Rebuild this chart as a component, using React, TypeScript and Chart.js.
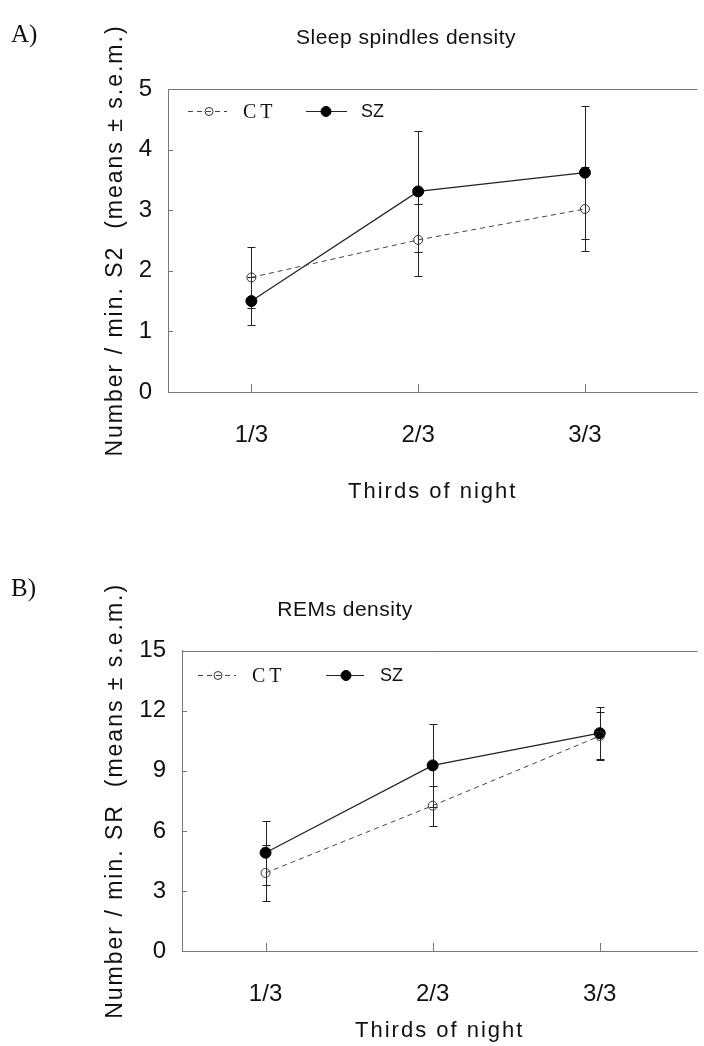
import React, { useEffect, useRef } from 'react';
import { Chart, registerables } from 'chart.js';

Chart.register(...registerables);

// ---------- data ----------
const categories = ['1/3', '2/3', '3/3'];
const seriesNames = ['CT', 'SZ'];

const spindlesCT = [1.89, 2.51, 3.02];
const spindlesCTErr = [0.5, 0.6, 0.7];
const spindlesSZ = [1.5, 3.31, 3.62];
const spindlesSZErr = [0.4, 1.0, 1.1];
const spindlesTicks = [0, 1, 2, 3, 4, 5];

const remsCT = [3.9, 7.26, 10.74];
const remsCTErr = [1.41, 1.0, 1.18];
const remsSZ = [4.91, 9.27, 10.88];
const remsSZErr = [1.59, 2.07, 1.29];
const remsTicks = [0, 3, 6, 9, 12, 15];

const FONT = "'Liberation Sans', Arial, Helvetica, sans-serif";
const SERIF = "'Liberation Serif', 'Times New Roman', serif";
const INK = '#111';

type PanelCfg = {
  top: number;
  height: number;
  letter: string;
  letterY: number;
  title: string;
  titleX: number;
  titleY: number;
  yLabel: string;
  chartTop: number;
  chartLeft: number;
  chartBottom: number;
  xMax: number;
  xTitlePadBottom: number;
  yTitlePadTop: number;
  ct: number[];
  ctErr: number[];
  sz: number[];
  szErr: number[];
  yTicks: number[];
  legend: { dy: number; items: { x0: number; x1: number; mx: number; tx: number; font: string; spacing: string }[] };
};

const panelA: PanelCfg = {
  top: 0,
  height: 520,
  letter: 'A)',
  letterY: 42,
  title: 'Sleep spindles density',
  titleX: 406,
  titleY: 38,
  yLabel: 'Number / min. S2  (means ± s.e.m.)',
  chartTop: 89,
  chartLeft: 168,
  chartBottom: 392,
  xMax: 3.675,
  xTitlePadBottom: 14.8,
  yTitlePadTop: 102,
  ct: spindlesCT,
  ctErr: spindlesCTErr,
  sz: spindlesSZ,
  szErr: spindlesSZErr,
  yTicks: spindlesTicks,
  legend: {
    dy: 21.7,
    items: [
      { x0: 20, x1: 59, mx: 41, tx: 75, font: `20px ${SERIF}`, spacing: '4px' },
      { x0: 138, x1: 179, mx: 158, tx: 193, font: `18px ${FONT}`, spacing: '0px' },
    ],
  },
};

const panelB: PanelCfg = {
  top: 520,
  height: 526,
  letter: 'B)',
  letterY: 76,
  title: 'REMs density',
  titleX: 345,
  titleY: 90,
  yLabel: 'Number / min. SR  (means ± s.e.m.)',
  chartTop: 130.7,
  chartLeft: 182,
  chartBottom: 431,
  xMax: 3.585,
  xTitlePadBottom: 1.8,
  yTitlePadTop: 102,
  ct: remsCT,
  ctErr: remsCTErr,
  sz: remsSZ,
  szErr: remsSZErr,
  yTicks: remsTicks,
  legend: {
    dy: 24,
    items: [
      { x0: 16, x1: 54, mx: 36, tx: 70, font: `20px ${SERIF}`, spacing: '4px' },
      { x0: 144, x1: 182, mx: 164, tx: 198, font: `18px ${FONT}`, spacing: '0px' },
    ],
  },
};

// ---------- plugin: frame, inner ticks, error bars, legend, titles ----------
const decorPlugin = {
  id: 'decor',
  beforeDraw(chart: any) {
    (chart.ctx as any).letterSpacing = '2px';
  },
  beforeDatasetsDraw(chart: any) {
    const ctx = chart.ctx;
    (ctx as any).letterSpacing = '0px';
    const { left, right, top, bottom } = chart.chartArea;
    const xs = chart.scales.x;
    const ys = chart.scales.y;
    ctx.save();
    ctx.strokeStyle = '#777';
    ctx.lineWidth = 1;
    ctx.setLineDash([]);
    ctx.beginPath();
    ctx.moveTo(left, Math.round(top) + 0.5);
    ctx.lineTo(right, Math.round(top) + 0.5);
    ys.ticks.forEach((t: any) => {
      if (t.value > ys.min && t.value < ys.max) {
        const py = Math.round(ys.getPixelForValue(t.value)) + 0.5;
        ctx.moveTo(left, py);
        ctx.lineTo(left + 5, py);
      }
    });
    xs.ticks.forEach((t: any) => {
      const px = Math.round(xs.getPixelForValue(t.value)) + 0.5;
      ctx.moveTo(px, bottom);
      ctx.lineTo(px, bottom - 8);
    });
    ctx.stroke();

    chart.data.datasets.forEach((ds: any, i: number) => {
      const meta = chart.getDatasetMeta(i);
      ctx.strokeStyle = '#222';
      ctx.lineWidth = 1;
      meta.data.forEach((pt: any, j: number) => {
        const v = ds.data[j].y;
        const e = ds.errors[j];
        const y1 = Math.round(ys.getPixelForValue(v + e)) + 0.5;
        const y2 = Math.round(ys.getPixelForValue(v - e)) + 0.5;
        const x = Math.round(pt.x) + 0.5;
        ctx.beginPath();
        ctx.moveTo(x, y1);
        ctx.lineTo(x, y2);
        ctx.moveTo(x - 4, y1);
        ctx.lineTo(x + 4, y1);
        ctx.moveTo(x - 4, y2);
        ctx.lineTo(x + 4, y2);
        ctx.stroke();
      });
    });
    ctx.restore();
  },
  afterDraw(chart: any, _args: any, opts: any) {
    const ctx = chart.ctx;
    const { left, top } = chart.chartArea;
    const lg = opts.legend;
    chart.data.datasets.forEach((ds: any, i: number) => {
      const it = lg.items[i];
      const y = Math.round(top + lg.dy) + 0.5;
      ctx.save();
      ctx.strokeStyle = ds.borderColor;
      ctx.lineWidth = ds.borderWidth;
      ctx.setLineDash(ds.borderDash || []);
      ctx.beginPath();
      ctx.moveTo(left + it.x0, y);
      ctx.lineTo(left + it.x1, y);
      ctx.stroke();
      ctx.setLineDash([]);
      ctx.beginPath();
      ctx.arc(left + it.mx, y, ds.pointRadius - 0.5, 0, Math.PI * 2);
      ctx.fillStyle = ds.pointBackgroundColor;
      ctx.fill();
      ctx.strokeStyle = ds.pointBorderColor;
      ctx.lineWidth = ds.pointBorderWidth;
      ctx.stroke();
      ctx.font = it.font;
      (ctx as any).letterSpacing = it.spacing;
      ctx.fillStyle = INK;
      ctx.textAlign = 'left';
      ctx.textBaseline = 'middle';
      ctx.fillText(ds.label, left + it.tx, y + 1);
      ctx.restore();
    });
    ctx.save();
    (ctx as any).letterSpacing = '0.5px';
    ctx.font = `21px ${FONT}`;
    ctx.fillStyle = INK;
    ctx.textAlign = 'center';
    ctx.textBaseline = 'middle';
    ctx.fillText(opts.title, opts.titleX, opts.titleY);
    (ctx as any).letterSpacing = '0px';
    ctx.font = `25px ${SERIF}`;
    ctx.textAlign = 'left';
    ctx.textBaseline = 'alphabetic';
    ctx.fillText(opts.letter, 11, opts.letterY);
    ctx.restore();
  },
};

function buildConfig(cfg: PanelCfg): any {
  const pts = (arr: number[]) => arr.map((v, i) => ({ x: i + 1, y: v }));
  return {
    type: 'line',
    data: {
      datasets: [
        {
          label: seriesNames[0],
          data: pts(cfg.ct),
          errors: cfg.ctErr,
          borderColor: '#444',
          borderWidth: 1,
          borderDash: [5, 4],
          pointStyle: 'circle',
          pointRadius: 4.5,
          pointHoverRadius: 4.5,
          pointBackgroundColor: 'rgba(255,255,255,0)',
          pointBorderColor: '#333',
          pointBorderWidth: 1,
          fill: false,
          tension: 0,
        },
        {
          label: seriesNames[1],
          data: pts(cfg.sz),
          errors: cfg.szErr,
          borderColor: '#222',
          borderWidth: 1.2,
          borderDash: [],
          pointStyle: 'circle',
          pointRadius: 5.5,
          pointHoverRadius: 5.5,
          pointBackgroundColor: '#000',
          pointBorderColor: '#000',
          pointBorderWidth: 1,
          fill: false,
          tension: 0,
        },
      ],
    },
    options: {
      responsive: false,
      animation: false,
      devicePixelRatio: 1,
      events: [],
      layout: { padding: { left: 0, right: 0, top: cfg.chartTop, bottom: 0 } },
      plugins: {
        legend: { display: false },
        tooltip: { enabled: false },
        title: { display: false },
        decor: {
          legend: cfg.legend,
          letter: cfg.letter,
          letterY: cfg.letterY,
          title: cfg.title,
          titleX: cfg.titleX,
          titleY: cfg.titleY,
        },
      },
      scales: {
        x: {
          type: 'linear',
          min: 0.5,
          max: cfg.xMax,
          afterBuildTicks: (s: any) => {
            s.ticks = categories.map((_, i) => ({ value: i + 1 }));
          },
          afterFit: (s: any) => {
            s.height = cfg.height - cfg.chartBottom;
          },
          ticks: {
            callback: (v: number) => categories[Math.round(v) - 1] ?? '',
            font: { family: FONT, size: 24 },
            color: INK,
            padding: 29,
            z: 1,
            maxRotation: 0,
            autoSkip: false,
          },
          grid: { display: false, drawTicks: false },
          border: { display: true, color: '#777', width: 1 },
          title: {
            display: true,
            text: 'Thirds of night',
            font: { family: FONT, size: 22 },
            color: INK,
            padding: { top: 0, bottom: cfg.xTitlePadBottom },
          },
        },
        y: {
          type: 'linear',
          min: cfg.yTicks[0],
          max: cfg.yTicks[cfg.yTicks.length - 1],
          afterBuildTicks: (s: any) => {
            s.ticks = cfg.yTicks.map((v) => ({ value: v }));
          },
          afterFit: (s: any) => {
            s.width = cfg.chartLeft;
          },
          ticks: {
            font: { family: FONT, size: 24 },
            color: INK,
            padding: 16,
            z: 1,
          },
          grid: { display: false, drawTicks: false },
          border: { display: true, color: '#777', width: 1 },
          title: {
            display: true,
            text: cfg.yLabel,
            font: { family: FONT, size: 23 },
            color: INK,
            padding: { top: cfg.yTitlePadTop, bottom: 0 },
          },
        },
      },
    },
    plugins: [decorPlugin],
  };
}

function Panel({ cfg }: { cfg: PanelCfg }) {
  const ref = useRef<HTMLCanvasElement>(null);
  useEffect(() => {
    if (!ref.current) return;
    const chart = new Chart(ref.current, buildConfig(cfg));
    return () => chart.destroy();
  }, [cfg]);
  return (
    <canvas
      ref={ref}
      width={704}
      height={cfg.height}
      style={{ position: 'absolute', left: 0, top: cfg.top, width: 704, height: cfg.height }}
    />
  );
}

export default function App() {
  return (
    <div style={{ position: 'absolute', left: 0, top: 0, width: 704, height: 1046, background: '#fff', overflow: 'hidden' }}>
      <Panel cfg={panelA} />
      <Panel cfg={panelB} />
    </div>
  );
}
